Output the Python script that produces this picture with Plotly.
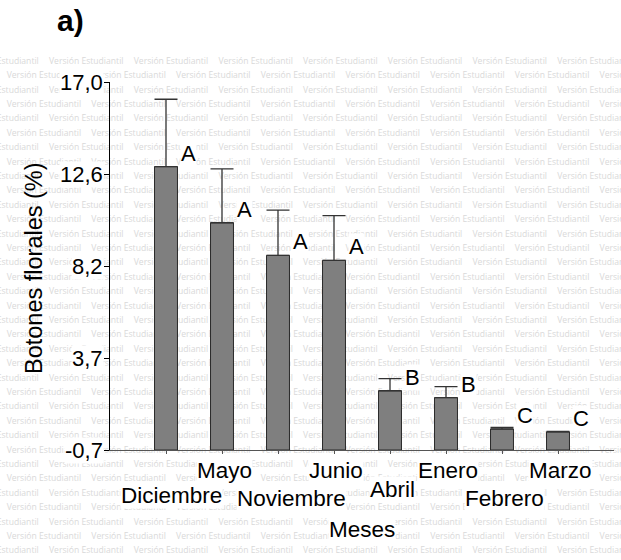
import plotly.graph_objects as go

# Flower-bud percentage by month
months = ["Diciembre", "Mayo", "Noviembre", "Junio", "Abril", "Enero", "Febrero", "Marzo"]
buds_pct = [12.93, 10.23, 8.66, 8.42, 2.15, 1.82, 0.31, 0.17]
buds_err = [3.24, 2.59, 2.18, 2.15, 0.58, 0.53, 0.08, 0.03]
groups = ["A", "A", "A", "A", "B", "B", "C", "C"]

y_ticks = [-0.7, 3.725, 8.15, 12.575, 17.0]
y_tick_text = ["-0,7", "3,7", "8,2", "12,6", "17,0"]
Y_MIN, Y_MAX = -0.7, 17.0

W, H = 621, 560
FONT = "Liberation Sans, Arial, sans-serif"

# plot-area box in pixels
PX_L, PX_R, PX_T, PX_B = 110, 614, 82, 450

def px(x):
    return x / W

def py(y):
    return 1 - y / H

fig = go.Figure()

# background "Versión Estudiantil" tiling on a full-page helper axis
wm_x, wm_y = [], []
step_x, step_y = 84.7, 14.4
for k in range(35):
    yy = 61.7 + step_y * k
    xx = -35.7 + (k % 2) * step_x / 2
    while xx < W:
        wm_x.append(xx)
        wm_y.append(yy)
        xx += step_x
fig.add_trace(go.Scatter(
    x=wm_x, y=wm_y, mode="text", text=["Versión Estudiantil"] * len(wm_x),
    textposition="middle right",
    textfont=dict(family="Open Sans, sans-serif", size=8.6, color="#d9d9d9"),
    hoverinfo="skip", showlegend=False, xaxis="x", yaxis="y",
))

# bars, drawn up from the bottom of the value axis
fig.add_trace(go.Bar(
    x=months, y=[v - Y_MIN for v in buds_pct], base=Y_MIN,
    width=0.41,
    marker=dict(color="#7f7f7f", line=dict(color="#2a2a2a", width=1)),
    error_y=dict(type="data", symmetric=False, array=buds_err,
                 arrayminus=[0] * len(buds_err),
                 color="#333333", thickness=1.3, width=11.5),
    showlegend=False, xaxis="x2", yaxis="y2",
))

annotations = []

# significance letters beside each bar top
for m, v, g in zip(months, buds_pct, groups):
    annotations.append(dict(
        x=m, y=v, xref="x2", yref="y2", text=g, showarrow=False,
        xanchor="left", yanchor="bottom", xshift=14, yshift=0,
        font=dict(family=FONT, size=22, color="black"),
        bgcolor="white", borderpad=0,
    ))

# month labels, staggered on two rows
label_dx = [5, 2, 13, 2, 2, 2, 2, 2]
label_py = [495.5, 470.5, 498.5, 470.5, 489.5, 470.5, 498.5, 470.5]
for m, dx, yy in zip(months, label_dx, label_py):
    annotations.append(dict(
        x=m, y=py(yy), xref="x2", yref="paper", text=m, showarrow=False,
        xanchor="center", yanchor="middle", xshift=dx,
        font=dict(family=FONT, size=22.5, color="black"),
        bgcolor="white", borderpad=0,
    ))

# value-axis labels
for tv, tt in zip(y_ticks, y_tick_text):
    annotations.append(dict(
        x=px(PX_L), y=tv, xref="paper", yref="y2", text=tt, showarrow=False,
        xanchor="right", yanchor="middle", xshift=-6,
        font=dict(family=FONT, size=22, color="black"),
        bgcolor="white", borderpad=0,
    ))

annotations.append(dict(
    x=px((PX_L + PX_R) / 2), y=py(529), xref="paper", yref="paper",
    text="Meses", showarrow=False, xanchor="center", yanchor="middle",
    font=dict(family=FONT, size=22.5, color="black"), bgcolor="white", borderpad=0,
))
annotations.append(dict(
    x=px(34), y=py(268), xref="paper", yref="paper",
    text="Botones florales (%)", showarrow=False, textangle=-90,
    xanchor="center", yanchor="middle",
    font=dict(family=FONT, size=23.5, color="black"),
))
annotations.append(dict(
    x=px(55), y=py(21), xref="paper", yref="paper",
    text="<b>a)</b>", showarrow=False, xanchor="left", yanchor="middle",
    font=dict(family=FONT, size=30, color="black"),
))

fig.update_layout(
    width=W, height=H,
    margin=dict(l=0, r=0, t=0, b=0),
    paper_bgcolor="white", plot_bgcolor="rgba(0,0,0,0)",
    bargap=0.5,
    annotations=annotations,
    xaxis=dict(domain=[0, 1], range=[0, W], visible=False, fixedrange=True),
    yaxis=dict(domain=[0, 1], range=[H, 0], visible=False, fixedrange=True),
    xaxis2=dict(
        domain=[px(PX_L), px(PX_R)], anchor="y2", type="category",
        categoryorder="array", categoryarray=months, range=[-1, len(months)],
        showline=True, linecolor="#555555", linewidth=1.3,
        ticks="outside", ticklen=3, tickcolor="#555555", tickwidth=1,
        showticklabels=False, showgrid=False, zeroline=False,
    ),
    yaxis2=dict(
        domain=[py(PX_B), py(PX_T)], anchor="x2", range=[Y_MIN, Y_MAX],
        tickvals=y_ticks, showticklabels=False,
        showline=True, linecolor="black", linewidth=1.3,
        ticks="outside", ticklen=5, tickcolor="black", tickwidth=1,
        showgrid=False, zeroline=False,
    ),
)

fig.write_html("out.html")
